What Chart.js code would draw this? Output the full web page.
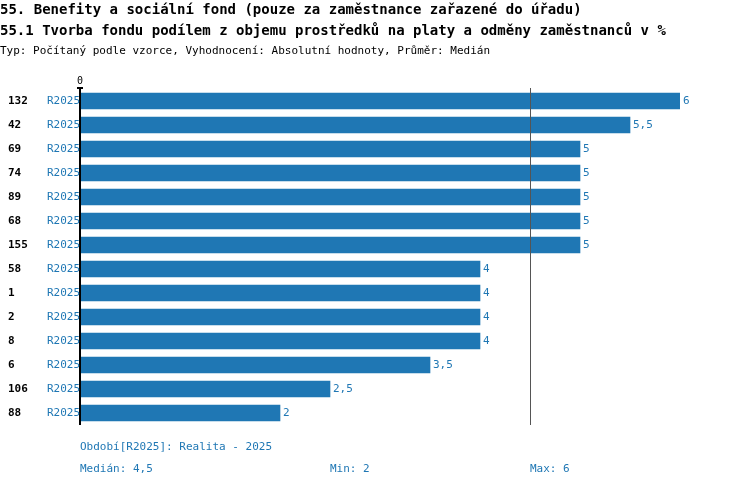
<!DOCTYPE html>
<html><head><meta charset="utf-8">
<script src="https://cdn.jsdelivr.net/npm/chart.js@4"></script>
<style>html,body{margin:0;background:#fff}#c{display:block}</style>
</head><body>
<canvas id="c" width="750" height="488"></canvas>
<script>
const ids = ['132', '42', '69', '74', '89', '68', '155', '58', '1', '2', '8', '6', '106', '88'];
const periods = ['R2025', 'R2025', 'R2025', 'R2025', 'R2025', 'R2025', 'R2025', 'R2025', 'R2025', 'R2025', 'R2025', 'R2025', 'R2025', 'R2025'];
const values = [6, 5.5, 5, 5, 5, 5, 5, 4, 4, 4, 4, 3.5, 2.5, 2];
const median = 4.5;

const FONT = '"DejaVu Sans Mono", monospace';
const BLUE = '#1f77b4';

const decor = {
  id: 'decor',
  afterDraw(chart) {
    const ctx = chart.ctx, xs = chart.scales.x, ys = chart.scales.y, a = chart.chartArea;
    ctx.save();
    ctx.textBaseline = 'middle';
    ctx.fillStyle = '#000';
    ctx.font = 'bold 14px ' + FONT;
    ctx.fillText('55. Benefity a sociální fond (pouze za zaměstnance zařazené do úřadu)', 0, 10);
    ctx.fillText('55.1 Tvorba fondu podílem z objemu prostředků na platy a odměny zaměstnanců v %', 0, 31);
    ctx.font = '11px ' + FONT;
    ctx.fillText('Typ: Počítaný podle vzorce, Vyhodnocení: Absolutní hodnoty, Průměr: Medián', 0, 51);
    // axis
    const x0 = xs.getPixelForValue(0);
    ctx.font = '10px ' + FONT;
    ctx.textAlign = 'center';
    ctx.fillText('0', x0, 81);
    ctx.strokeStyle = '#000'; ctx.lineWidth = 2;
    ctx.beginPath(); ctx.moveTo(x0, 88); ctx.lineTo(x0, a.bottom); ctx.stroke();
    ctx.beginPath(); ctx.moveTo(x0 - 3, 88); ctx.lineTo(x0 + 3, 88); ctx.stroke();
    const xm = xs.getPixelForValue(median);
    ctx.strokeStyle = '#555'; ctx.lineWidth = 1;
    ctx.beginPath(); ctx.moveTo(xm + 0.5, 88); ctx.lineTo(xm + 0.5, a.bottom); ctx.stroke();
    // row labels
    ctx.textAlign = 'left';
    ids.forEach((id, i) => {
      const y = ys.getPixelForValue(i);
      ctx.fillStyle = '#000'; ctx.font = 'bold 11px ' + FONT;
      ctx.fillText(id, 8, y);
      ctx.fillStyle = BLUE; ctx.font = '11px ' + FONT;
      ctx.fillText(periods[i], 47, y);
      ctx.fillText(String(values[i]).replace('.', ','), xs.getPixelForValue(values[i]) + 3, y);
    });
    ctx.fillStyle = BLUE; ctx.font = '11px ' + FONT;
    ctx.fillText('Období[R2025]: Realita - 2025', 80, 447);
    ctx.fillText('Medián: 4,5', 80, 469);
    ctx.fillText('Min: 2', 330, 469);
    ctx.fillText('Max: 6', 530, 469);
    ctx.restore();
  }
};

new Chart(document.getElementById('c'), {
  type: 'bar',
  data: {
    labels: ids,
    datasets: [{ data: values, backgroundColor: BLUE, barThickness: 16 }]
  },
  options: {
    indexAxis: 'y',
    responsive: false,
    animation: false,
    layout: { padding: { left: 80, right: 70, top: 89, bottom: 63 } },
    scales: {
      x: { min: 0, max: 6, display: false },
      y: { display: false }
    },
    plugins: { legend: { display: false }, tooltip: { enabled: false } }
  },
  plugins: [decor]
});
</script>
</body></html>
